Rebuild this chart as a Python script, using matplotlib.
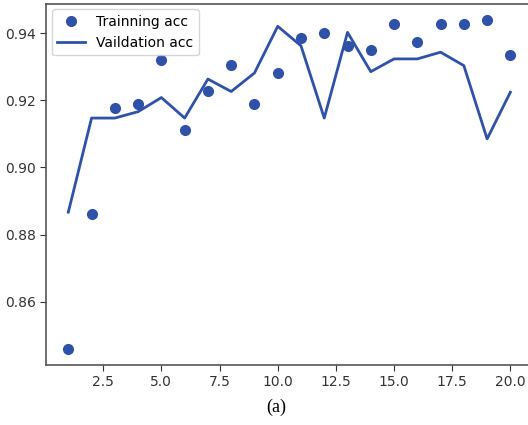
import matplotlib
matplotlib.use('Agg')
import matplotlib.pyplot as plt
import numpy as np

epochs = list(range(1, 21))
train_acc = [0.8461, 0.8861, 0.9176, 0.9190, 0.9319, 0.9111, 0.9228, 0.9306, 0.9190, 0.9282,
             0.9386, 0.9400, 0.9360, 0.9348, 0.9427, 0.9372, 0.9427, 0.9427, 0.9438, 0.9334]
val_acc = [0.8867, 0.9147, 0.9147, 0.9166, 0.9208, 0.9147, 0.9263, 0.9226, 0.9281, 0.9420,
           0.9362, 0.9147, 0.9402, 0.9285, 0.9323, 0.9323, 0.9343, 0.9303, 0.9085, 0.9224]

blue = '#2f52a8'

fig = plt.figure(figsize=(5.28, 4.25), dpi=100)
ax = fig.add_axes([0.0875, 0.141, 0.921, 0.850])

ax.plot(epochs, train_acc, 'o', color=blue, markersize=7, label='Trainning acc')
ax.plot(epochs, val_acc, '-', color=blue, linewidth=2, label='Vaildation acc')

ax.set_yticks([0.86, 0.88, 0.90, 0.92, 0.94])
ax.set_xticks([2.5, 5.0, 7.5, 10.0, 12.5, 15.0, 17.5, 20.0])
ax.tick_params(labelsize=10, colors='#333333', length=4)
for s in ax.spines.values():
    s.set_color('#555555')
    s.set_linewidth(1.2)

ax.legend(loc='upper left', fontsize=10, borderaxespad=0.4)

fig.text(0.523, 0.042, '(a)', family='Liberation Serif', fontsize=13, ha='center', va='center')

fig.savefig('out.png', dpi=100)
